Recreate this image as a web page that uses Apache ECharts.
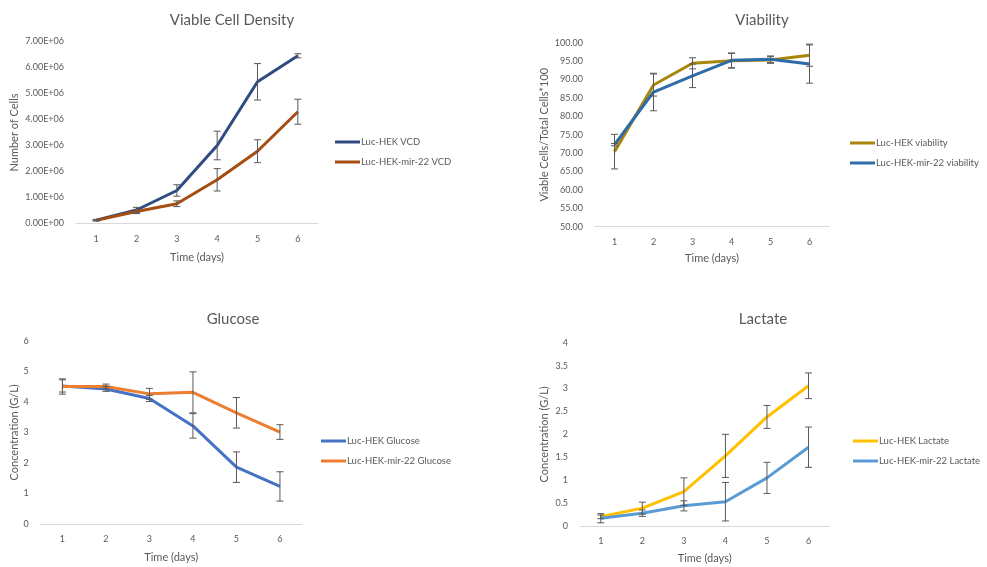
<!DOCTYPE html>
<html>
<head>
<meta charset="utf-8">
<script src="https://cdn.jsdelivr.net/npm/echarts@6/dist/echarts.min.js"></script>
<style>
  html, body { margin: 0; padding: 0; background: #fff; }
  #chart { width: 987px; height: 567px; }
</style>
</head>
<body>
<div id="chart"></div>
<script>
// Culture days shared by all four panels
const days = ['1', '2', '3', '4', '5', '6'];

// Viable cell density (cells) and standard deviations
const vcdLuc = [0.13e6, 0.52e6, 1.27e6, 3.0e6, 5.45e6, 6.45e6];
const vcdLucErr = [0.03e6, 0.1e6, 0.22e6, 0.55e6, 0.7e6, 0.08e6];
const vcdMir = [0.12e6, 0.46e6, 0.76e6, 1.68e6, 2.78e6, 4.3e6];
const vcdMirErr = [0.02e6, 0.08e6, 0.11e6, 0.43e6, 0.44e6, 0.48e6];

// Viability (%)
const viaLuc = [70.4, 88.5, 94.4, 95.1, 95.3, 96.6];
const viaLucErr = [4.7, 3.0, 1.5, 2.0, 0.9, 3.0];
const viaMir = [72.3, 86.6, 91.0, 95.2, 95.5, 94.2];
const viaMirErr = [0.3, 5.1, 3.2, 2.0, 0.9, 5.2];

// Glucose (g/L)
const gluLuc = [4.52, 4.42, 4.11, 3.21, 1.86, 1.23];
const gluLucErr = [0.2, 0.08, 0.1, 0.4, 0.5, 0.48];
const gluMir = [4.5, 4.5, 4.26, 4.31, 3.64, 3.01];
const gluMirErr = [0.25, 0.08, 0.18, 0.67, 0.5, 0.24];

// Lactate (g/L)
const lacLuc = [0.2, 0.39, 0.75, 1.53, 2.38, 3.06];
const lacLucErr = [0.04, 0.13, 0.3, 0.47, 0.25, 0.28];
const lacMir = [0.17, 0.28, 0.44, 0.53, 1.05, 1.72];
const lacMirErr = [0.1, 0.07, 0.11, 0.42, 0.34, 0.44];

const textColor = '#595959';
const font = 'Lato, "Open Sans", sans-serif';

const chart = echarts.init(document.getElementById('chart'), null, { renderer: 'canvas' });

const grids = [
  { left: 76, top: 41.5, width: 242, height: 182 },
  { left: 595, top: 42.7, width: 234, height: 184 },
  { left: 40.7, top: 340.7, width: 261, height: 183.3 },
  { left: 580, top: 342.7, width: 249.3, height: 183.3 }
];

function xAxis(i, gap) {
  return {
    type: 'category', gridIndex: i, data: days, boundaryGap: true,
    name: 'Time (days)', nameLocation: 'middle', nameGap: gap,
    nameTextStyle: { color: textColor, fontSize: 11, fontFamily: font },
    axisLine: { lineStyle: { color: '#d9d9d9', width: 1 } },
    axisTick: { show: false },
    axisLabel: { color: textColor, fontSize: 9, fontFamily: font, margin: 11 },
    splitLine: { show: false }
  };
}

function yAxis(i, opts) {
  return Object.assign({
    type: 'value', gridIndex: i,
    nameLocation: 'middle', nameRotate: 90,
    nameTextStyle: { color: textColor, fontSize: 11, fontFamily: font },
    axisLine: { show: false }, axisTick: { show: false },
    splitLine: { show: false },
    axisLabel: { color: textColor, fontSize: 9, fontFamily: font, margin: 12 }
  }, opts);
}

function line(name, i, data, color) {
  return {
    type: 'line', name, xAxisIndex: i, yAxisIndex: i, data,
    symbol: 'none', smooth: false,
    lineStyle: { color, width: 3 }, itemStyle: { color },
    z: 3
  };
}

// Symmetric error bars drawn in data space with capped ends
function errorBars(i, values, errs) {
  const data = values.map((v, k) => [k, v - errs[k], v + errs[k]]);
  return {
    type: 'custom', xAxisIndex: i, yAxisIndex: i, data,
    z: 4, silent: true,
    encode: { x: 0, y: [1, 2] },
    renderItem: function (params, api) {
      const x = api.value(0);
      const lo = api.coord([x, api.value(1)]);
      const hi = api.coord([x, api.value(2)]);
      const cap = 3.5;
      const style = { stroke: '#595959', lineWidth: 1, fill: null };
      return {
        type: 'group',
        children: [
          { type: 'line', shape: { x1: lo[0], y1: lo[1], x2: hi[0], y2: hi[1] }, style },
          { type: 'line', shape: { x1: hi[0] - cap, y1: hi[1], x2: hi[0] + cap, y2: hi[1] }, style },
          { type: 'line', shape: { x1: lo[0] - cap, y1: lo[1], x2: lo[0] + cap, y2: lo[1] }, style }
        ]
      };
    }
  };
}

function legend(names, left, top) {
  return {
    data: names, left, top, orient: 'vertical',
    icon: 'rect', itemWidth: 25, itemHeight: 3, itemGap: 10,
    textStyle: { color: textColor, fontSize: 9.5, fontFamily: font, padding: [0, 0, 0, -4] },
    padding: 0
  };
}

function title(text, x, top) {
  return {
    text, left: x, top, textAlign: 'center',
    textStyle: { color: textColor, fontSize: 15, fontWeight: 'normal', fontFamily: font }
  };
}

const C = {
  vcdLuc: '#2F4B82', vcdMir: '#A64D12',
  viaLuc: '#A8860A', viaMir: '#2E6CA8',
  gluLuc: '#4472C4', gluMir: '#ED7D31',
  lacLuc: '#FFC000', lacMir: '#5B9BD5'
};

const option = {
  backgroundColor: '#ffffff',
  animation: false,
  title: [
    title('Viable Cell Density', 227, 8),
    title('Viability', 757, 8),
    title('Glucose', 228, 307),
    title('Lactate', 758, 307)
  ],
  legend: [
    legend(['Luc-HEK VCD', 'Luc-HEK-mir-22 VCD'], 335, 137),
    legend(['Luc-HEK viability', 'Luc-HEK-mir-22 viability'], 850, 138),
    legend(['Luc-HEK Glucose', 'Luc-HEK-mir-22 Glucose'], 321, 436),
    legend(['Luc-HEK Lactate', 'Luc-HEK-mir-22 Lactate'], 853, 436)
  ],
  grid: grids,
  xAxis: [xAxis(0, 28), xAxis(1, 26), xAxis(2, 28), xAxis(3, 27)],
  yAxis: [
    yAxis(0, {
      min: 0, max: 7e6, interval: 1e6, name: 'Number of Cells', nameGap: 56,
      axisLabel: { color: textColor, fontSize: 9, fontFamily: font, margin: 12,
        formatter: v => (v / 1e6).toFixed(2) + (v === 0 ? 'E+00' : 'E+06') }
    }),
    yAxis(1, {
      min: 50, max: 100, interval: 5, name: 'Viable Cells/Total Cells*100', nameGap: 45,
      axisLabel: { color: textColor, fontSize: 9, fontFamily: font, margin: 12,
        formatter: v => v.toFixed(2) }
    }),
    yAxis(2, { min: 0, max: 6, interval: 1, name: 'Concentration (G/L)', nameGap: 21 }),
    yAxis(3, { min: 0, max: 4, interval: 0.5, name: 'Concentration (G/L)', nameGap: 30 })
  ],
  series: [
    line('Luc-HEK VCD', 0, vcdLuc, C.vcdLuc),
    line('Luc-HEK-mir-22 VCD', 0, vcdMir, C.vcdMir),
    errorBars(0, vcdLuc, vcdLucErr),
    errorBars(0, vcdMir, vcdMirErr),

    line('Luc-HEK viability', 1, viaLuc, C.viaLuc),
    line('Luc-HEK-mir-22 viability', 1, viaMir, C.viaMir),
    errorBars(1, viaLuc, viaLucErr),
    errorBars(1, viaMir, viaMirErr),

    line('Luc-HEK Glucose', 2, gluLuc, C.gluLuc),
    line('Luc-HEK-mir-22 Glucose', 2, gluMir, C.gluMir),
    errorBars(2, gluLuc, gluLucErr),
    errorBars(2, gluMir, gluMirErr),

    line('Luc-HEK Lactate', 3, lacLuc, C.lacLuc),
    line('Luc-HEK-mir-22 Lactate', 3, lacMir, C.lacMir),
    errorBars(3, lacLuc, lacLucErr),
    errorBars(3, lacMir, lacMirErr)
  ]
};

chart.setOption(option);
</script>
</body>
</html>
